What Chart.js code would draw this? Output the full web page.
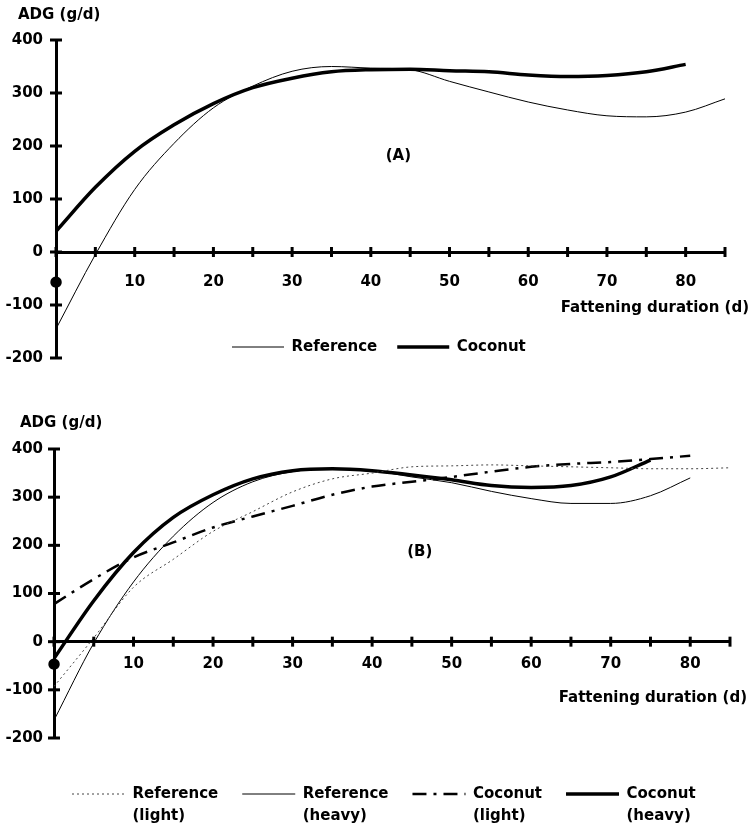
<!DOCTYPE html>
<html>
<head>
<meta charset="utf-8">
<script src="https://cdn.jsdelivr.net/npm/chart.js@4"></script>
<style>
html,body{margin:0;padding:0;background:#fff;}
#wrap{position:relative;width:751px;height:831px;overflow:hidden;}
canvas{position:absolute;left:0;}
#chartA{top:0;}
#chartB{top:380px;}
</style>
</head>
<body>
<div id="wrap">
<canvas id="chartA" width="751" height="380"></canvas>
<canvas id="chartB" width="751" height="451"></canvas>
</div>
<script>
// ---- data ----
const days = [0, 5, 10, 15, 20, 25, 30, 35, 40, 45, 50, 55, 60, 65, 70, 75, 80, 85];
const xTickLabels = ['●', '10', '20', '30', '40', '50', '60', '70', '80'];
const yTicks = [400, 300, 200, 100, 0, -100, -200];

// Panel A
const referenceA = [-145, -5, 118, 205, 272, 313, 341, 350, 347, 344, 322, 302, 283, 268, 257, 255, 264, 289];
const coconutA   = [39, 122, 190, 240, 280, 310, 328, 340, 344, 345, 342, 340, 334, 331, 333, 340, 354];

// Panel B
const referenceLightB = [-93, 8, 113, 171, 229, 270, 311, 338, 350, 363, 365, 367, 365, 363, 361, 359, 359, 361];
const referenceHeavyB = [-163, -3, 124, 219, 289, 332, 353, 359, 355, 342, 330, 312, 297, 287, 287, 303, 340];
const coconutLightB   = [78, 130, 175, 206, 237, 260, 282, 305, 322, 332, 342, 353, 363, 369, 373, 379, 386];
const coconutHeavyB   = [-35, 85, 185, 258, 305, 338, 355, 359, 355, 346, 336, 324, 320, 324, 342, 377];

const yTitle = 'ADG (g/d)';
const xTitle = 'Fattening duration (d)';

// ---- helpers ----
function pts(vals) { return vals.map((v, i) => ({ x: days[i], y: v })); }

Chart.defaults.font.family = '"DejaVu Sans", sans-serif';
Chart.defaults.font.weight = 'bold';
Chart.defaults.font.size = 15;
Chart.defaults.color = '#000';

const extras = {
  id: 'extras',
  afterLayout(chart, args, o) {
    // let the y tick labels use the room to the left of the axis box
    chart.scales.y.left = 0;
    const lg = chart.legend;
    if (!lg || !o.legendAt) return;
    const p = lg.options.labels.padding;
    lg.left = o.legendAt[0] - p;
    lg.top = o.legendAt[1] - p;
    lg.right = chart.width + 1000;
    lg.bottom = lg.top + 120;
    lg.width = lg.right - lg.left;
    lg.height = lg.bottom - lg.top;
  },
  afterDraw(chart, args, o) {
    const ctx = chart.ctx;
    const xs = chart.scales.x, ys = chart.scales.y;
    const axisY = ys.getPixelForValue(0);
    const axisX = chart.chartArea.left;
    ctx.save();
    ctx.strokeStyle = '#000';
    ctx.lineWidth = 3;
    xs.ticks.forEach(t => {
      const px = xs.getPixelForValue(t.value);
      ctx.beginPath(); ctx.moveTo(px, axisY - 5); ctx.lineTo(px, axisY + 5); ctx.stroke();
    });
    ys.ticks.forEach(t => {
      const py = ys.getPixelForValue(t.value);
      ctx.beginPath(); ctx.moveTo(axisX - 6, py); ctx.lineTo(axisX + 6, py); ctx.stroke();
    });
    ctx.fillStyle = '#000';
    ctx.font = 'bold 15px "DejaVu Sans"';
    ctx.textBaseline = 'middle';
    ctx.textAlign = 'center';
    ctx.fillText(o.panel, xs.getPixelForValue(o.panelAt[0]), ys.getPixelForValue(o.panelAt[1]));
    ctx.textAlign = 'right';
    ctx.fillText(xTitle, xs.right + o.xTitleShift[0], axisY + o.xTitleShift[1]);
    ctx.restore();
  }
};

function legendLabels(chart) {
  const items = Chart.defaults.plugins.legend.labels.generateLabels(chart);
  items.forEach(it => {
    const ds = chart.data.datasets[it.datasetIndex];
    it.lineWidth = ds.borderWidth;
    it.lineDash = ds.borderDash || [];
    it.strokeStyle = ds.borderColor;
    it.pointStyle = 'line';
    if (Array.isArray(it.text)) {
      // multi-line label: measure by its longest line
      const lines = it.text.slice();
      lines.toString = () => lines.reduce((a, b) => (a.length >= b.length ? a : b));
      it.text = lines;
    }
  });
  return items;
}

function makeChart(id, datasets, L) {
  return new Chart(document.getElementById(id), {
    type: 'line',
    data: { datasets },
    plugins: [extras],
    options: {
      responsive: false,
      animation: false,
      layout: { padding: L.padding },
      elements: { point: { radius: 0 }, line: { cubicInterpolationMode: 'monotone' } },
      scales: {
        x: {
          type: 'linear',
          position: { y: 0 },
          min: 0, max: 85,
          grid: { drawOnChartArea: false, drawTicks: false },
          border: { display: true, width: 3, color: '#000' },
          ticks: {
            stepSize: 5, autoSkip: false, maxRotation: 0, padding: L.xPad,
            callback: (v) => {
              if (v === 0) return xTickLabels[0];
              if (v % 10 === 0 && v <= 80) return xTickLabels[v / 10];
              return '';
            }
          }
        },
        y: {
          min: -200, max: 400,
          grid: { drawOnChartArea: false, drawTicks: false },
          border: { display: true, width: 3, color: '#000' },
          afterFit: (s) => { s.width = L.yWidth; },
          afterBuildTicks: (s) => { s.ticks = yTicks.map(v => ({ value: v })); },
          ticks: { padding: L.yPad }
        }
      },
      plugins: {
        title: {
          display: true, text: yTitle, align: 'start',
          font: { size: 15, weight: 'bold' }, color: '#000',
          padding: L.titlePad
        },
        legend: {
          display: true, position: 'bottom', align: 'start', maxHeight: 1,
          labels: {
            usePointStyle: true, pointStyle: 'line', pointStyleWidth: L.sampleW,
            padding: L.legendPad, color: '#000',
            font: { size: 15, weight: 'bold', lineHeight: 1.47 },
            generateLabels: legendLabels
          }
        },
        tooltip: { enabled: false },
        extras: { legendAt: L.legendAt, panel: L.panel, panelAt: L.panelAt, xTitleShift: L.xTitleShift }
      }
    }
  });
}

makeChart('chartA', [
  { label: 'Reference', data: pts(referenceA), borderColor: '#000', borderWidth: 1, borderDash: [] },
  { label: 'Coconut', data: pts(coconutA), borderColor: '#000', borderWidth: 3.5, borderDash: [] }
], {
  padding: { left: 18, right: 26, top: 0, bottom: 15 },
  titlePad: { top: 6, bottom: 16 },
  yWidth: 38, yPad: 13, xPad: 21,
  sampleW: 52, legendPad: 20, legendAt: [232, 339.5],
  panel: '(A)', panelAt: [43.5, 181], xTitleShift: [24, 56]
});

makeChart('chartB', [
  { label: ['Reference', '(light)'], data: pts(referenceLightB), borderColor: '#444', borderWidth: 1, borderDash: [2, 3] },
  { label: ['Reference', '(heavy)'], data: pts(referenceHeavyB), borderColor: '#000', borderWidth: 1, borderDash: [] },
  { label: ['Coconut', '(light)'], data: pts(coconutLightB), borderColor: '#000', borderWidth: 2.5, borderDash: [14, 7, 3, 7] },
  { label: ['Coconut', '(heavy)'], data: pts(coconutHeavyB), borderColor: '#000', borderWidth: 3.5, borderDash: [] }
], {
  padding: { left: 20, right: 21, top: 0, bottom: 92 },
  titlePad: { top: 34, bottom: 17 },
  yWidth: 34, yPad: 11, xPad: 13,
  sampleW: 53, legendPad: 24, legendAt: [72, 406.5],
  panel: '(B)', panelAt: [46, 185], xTitleShift: [17, 56]
});
</script>
</body>
</html>
